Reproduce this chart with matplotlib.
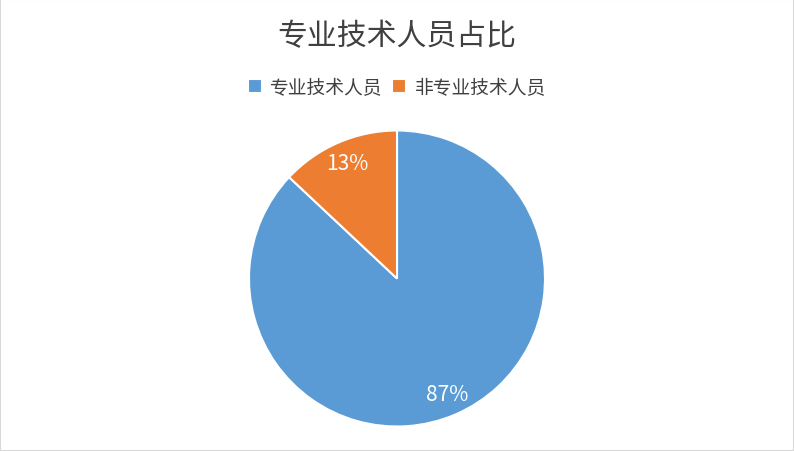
import matplotlib
matplotlib.use("Agg")
import matplotlib.pyplot as plt
from matplotlib.patches import Rectangle

plt.rcParams['font.family'] = ['Noto Sans CJK SC', 'DejaVu Sans']

# data
labels = ['专业技术人员', '非专业技术人员']
shares = [87, 13]
colors = ['#5B9BD5', '#ED7D31']
title = '专业技术人员占比'

fig = plt.figure(figsize=(7.94, 4.52), dpi=100)
fig.patches.append(Rectangle((0, 0), 1, 1, transform=fig.transFigure,
                             fill=False, edgecolor='#D9D9D9', linewidth=1.5))

ax = fig.add_axes([(397 - 148) / 794, (452 - 427.5) / 452, 296 / 794, 296 / 452])
wedges, texts, autotexts = ax.pie(
    shares, colors=colors, startangle=90, counterclock=False,
    autopct='%d%%', pctdistance=0.85,
    wedgeprops=dict(edgecolor='white', linewidth=1.5),
    textprops=dict(color='white', fontsize=15))
ax.set_xlim(-1, 1)
ax.set_ylim(-1, 1)
ax.axis('off')

fig.text(0.5, 0.918, title, ha='center', va='center', fontsize=21.5, color='#404040')
fig.legend(wedges, labels, loc='center', bbox_to_anchor=(0.5, 0.805), ncol=2,
           frameon=False, fontsize=13.5, labelcolor='#404040',
           handlelength=0.75, handleheight=0.75, handletextpad=0.45, columnspacing=0.5)

fig.savefig('out.png', dpi=100)
